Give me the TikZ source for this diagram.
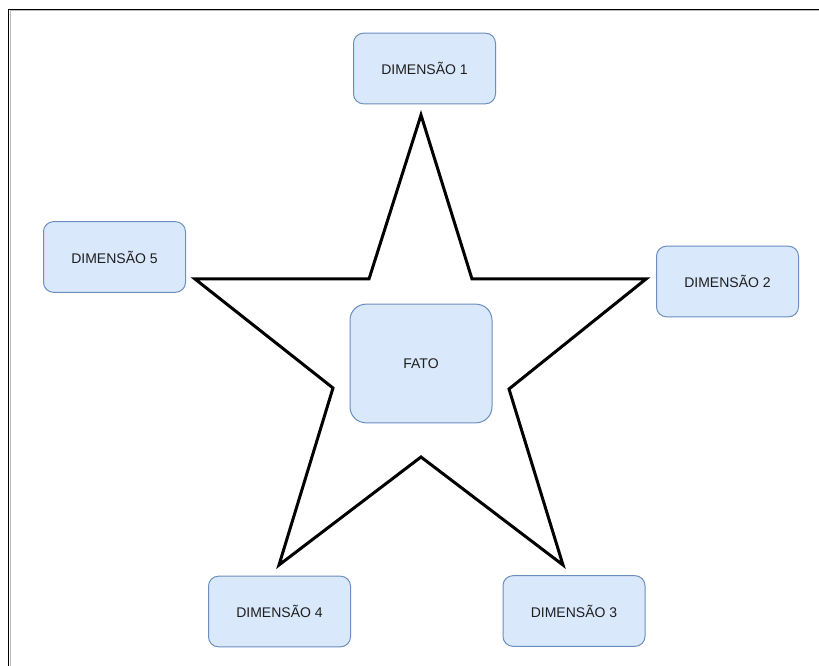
\documentclass[tikz,border=0pt]{standalone}
\usepackage{fontspec}
\setmainfont{Liberation Sans}
\definecolor{boxfill}{HTML}{DAE8FC}
\definecolor{boxline}{HTML}{6C8EBF}
\definecolor{labeltext}{HTML}{1E1E1E}
\begin{document}
\begin{tikzpicture}[x=0.75pt,y=-0.75pt,
  dim/.style={draw=boxline, fill=boxfill, line width=0.75pt,
    rounded corners=7.5pt, minimum width=106.5pt, minimum height=53pt,
    inner sep=0pt, text=labeltext, font=\fontsize{10.5}{12}\selectfont},
  fact/.style={dim, rounded corners=12pt, minimum height=89pt},
  starline/.style={draw=black, fill=white, line width=2.25pt, line join=miter}]
\useasboundingbox (0,0) rectangle (819,666);

% window frame along the top and left edges
\draw[line width=1.2pt] (8.5,666) -- (8.5,9.5) -- (819,9.5);
\draw[gray!55, line width=0.75pt] (10.2,666) -- (10.2,11) -- (819,11);

% five-pointed star
\path[starline] (421,115) -- (472,279) -- (646,279) -- (509,389)
  -- (563,565) -- (421,457) -- (279,565) -- (333,388)
  -- (195,279) -- (369,279) -- cycle;

% fact table and its dimensions
\node[fact] (fato) at (421,363.5) {FATO};
\node[dim] (d1) at (424.5,68.5) {DIMENSÃO 1};
\node[dim] (d2) at (727.5,281.5) {DIMENSÃO 2};
\node[dim] (d3) at (574,611) {DIMENSÃO 3};
\node[dim] (d4) at (279.5,611.5) {DIMENSÃO 4};
\node[dim] (d5) at (114.5,257) {DIMENSÃO 5};
\end{tikzpicture}
\end{document}
